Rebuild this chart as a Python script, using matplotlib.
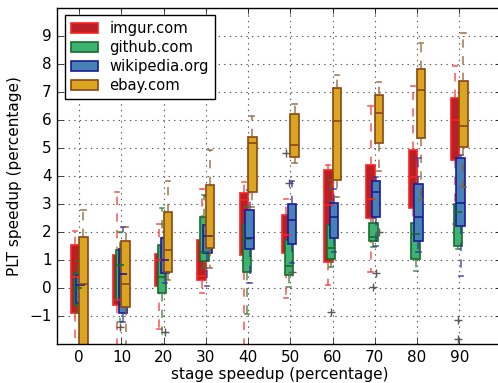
import matplotlib
matplotlib.use('Agg')
import matplotlib.pyplot as plt
from matplotlib.patches import Patch

plt.style.use('classic')
plt.rcParams['font.family'] = ['DejaVu Sans']
plt.rcParams['savefig.facecolor'] = 'white'
plt.rcParams['figure.facecolor'] = 'white'

stages = [0, 10, 20, 30, 40, 50, 60, 70, 80, 90]
sites = ['imgur.com', 'github.com', 'wikipedia.org', 'ebay.com']

# per stage: (whislo, q1, med, q3, whishi)
imgur = [(-2.5, -0.9, 0.4, 1.54, 2.04), (-2.5, -0.61, -0.43, 1.18, 3.44),
         (-1.45, 0.07, 1.0, 1.2, 2.27), (-0.16, 0.27, 0.42, 1.7, 3.55),
         (-2.5, 1.18, 3.15, 3.38, 3.8), (-0.35, 1.24, 1.89, 2.61, 3.19),
         (0.1, 0.94, 2.95, 4.21, 4.41), (0.58, 2.51, 3.17, 4.41, 6.49),
         (1.4, 2.86, 3.95, 4.93, 7.2), (2.29, 4.57, 6.01, 6.78, 7.92)]
github = [(-0.9, -0.6, 0.0, 0.52, 0.95), (-1.2, -0.45, 0.82, 1.36, 2.01),
          (-2.3, -0.19, 0.4, 1.54, 2.87), (0.73, 0.98, 1.3, 2.55, 3.33),
          (-0.93, 0.58, 1.74, 2.27, 2.9), (0.02, 0.46, 0.79, 1.71, 2.6),
          (0.76, 1.02, 1.42, 2.25, 3.85), (1.45, 1.68, 1.83, 2.31, 2.75),
          (0.62, 1.04, 1.93, 2.32, 3.35), (1.4, 1.51, 2.71, 3.01, 3.3)]
wikipedia = [(-0.75, -0.55, 0.1, 0.48, 0.96), (-1.2, -0.9, 0.49, 1.39, 2.17),
             (0.19, 0.55, 1.0, 1.8, 2.0), (0.07, 1.25, 1.85, 2.25, 3.27),
             (0.19, 1.39, 1.8, 2.79, 3.5), (0.9, 1.57, 2.43, 3.0, 3.81),
             (1.3, 1.77, 2.54, 3.05, 3.55), (1.5, 2.53, 3.43, 3.81, 3.97),
             (1.3, 1.67, 2.53, 3.73, 4.63), (0.44, 2.23, 3.04, 4.63, 4.75)]
ebay = [(-3.0, -2.3, 0.13, 1.83, 2.8), (-2.2, -0.67, 0.13, 1.68, 2.19),
        (0.3, 0.57, 1.37, 2.7, 3.82), (0.73, 1.44, 1.87, 3.67, 4.92),
        (2.9, 3.43, 5.17, 5.41, 6.13), (4.47, 4.69, 5.11, 6.21, 6.58),
        (3.25, 3.85, 5.98, 7.14, 7.62), (4.17, 5.17, 6.25, 6.88, 7.35),
        (3.13, 5.35, 7.06, 7.84, 8.76), (3.61, 5.05, 5.79, 7.41, 9.12)]

# outliers: {stage index: [values]}
imgur_out = {5: [4.83]}
github_out = {1: [-1.38], 5: [3.74], 6: [-0.87], 7: [0.05], 9: [-1.14, -1.81]}
wikipedia_out = {2: [-1.56], 5: [0.58], 7: [0.55]}
ebay_out = {7: [2.01]}

series = [imgur, github, wikipedia, ebay]
outliers = [imgur_out, github_out, wikipedia_out, ebay_out]
offsets = [-1.0, -1.0 / 3, 1.0 / 3, 1.0]
faces = ['#b82025', '#3cb371', '#4682b4', '#daa520']
edges = ['#ff2020', '#1a6b2a', '#1a1a9a', '#8b4513']
whisk = ['#ff3030', '#2e7d32', '#3030a0', '#8b5a2b']

fig = plt.figure(figsize=(4.98, 3.83), dpi=100)
ax = fig.add_axes([0.115, 0.1018, 0.892, 0.877])
ax.grid(True, linestyle=':', color='0.35', linewidth=0.8)
ax.set_axisbelow(True)

for k, data in enumerate(series):
    stats = []
    for i, (lo, q1, med, q3, hi) in enumerate(data):
        stats.append(dict(whislo=lo, q1=q1, med=med, q3=q3, whishi=hi,
                          fliers=outliers[k].get(i, [])))
    pos = [s + offsets[k] for s in stages]
    ax.bxp(stats, positions=pos, widths=2.0, patch_artist=True,
           showfliers=True, manage_ticks=False,
           boxprops=dict(facecolor=faces[k], edgecolor=edges[k], linewidth=1.2),
           whiskerprops=dict(color=whisk[k], linestyle='--', linewidth=1.3, alpha=0.7),
           capprops=dict(color=whisk[k], linewidth=1.2, alpha=0.8),
           medianprops=dict(color=edges[k], linewidth=1.2),
           flierprops=dict(marker='+', markeredgecolor='0.35', markersize=6,
                           linestyle='none'))

ax.set_xlim(-5.2, 100)
ax.set_ylim(-2, 10)
ax.set_xticks(stages)
ax.set_xticklabels([str(s) for s in stages])
ax.set_yticks(range(-1, 10))
ax.set_yticklabels(['\u22121'] + [str(v) for v in range(0, 10)])
ax.tick_params(labelsize=11)
ax.set_xlabel('stage speedup (percentage)', fontsize=11, labelpad=2)
ax.set_ylabel('PLT speedup (percentage)', fontsize=11)

handles = [Patch(facecolor=faces[k], edgecolor=edges[k], linewidth=1.2)
           for k in range(4)]
ax.legend(handles, sites, loc='upper left', fontsize=10.6,
          borderaxespad=0.5, handlelength=1.9, labelspacing=0.27,
          handletextpad=0.75, borderpad=0.4)

fig.savefig('out.png', dpi=100)
